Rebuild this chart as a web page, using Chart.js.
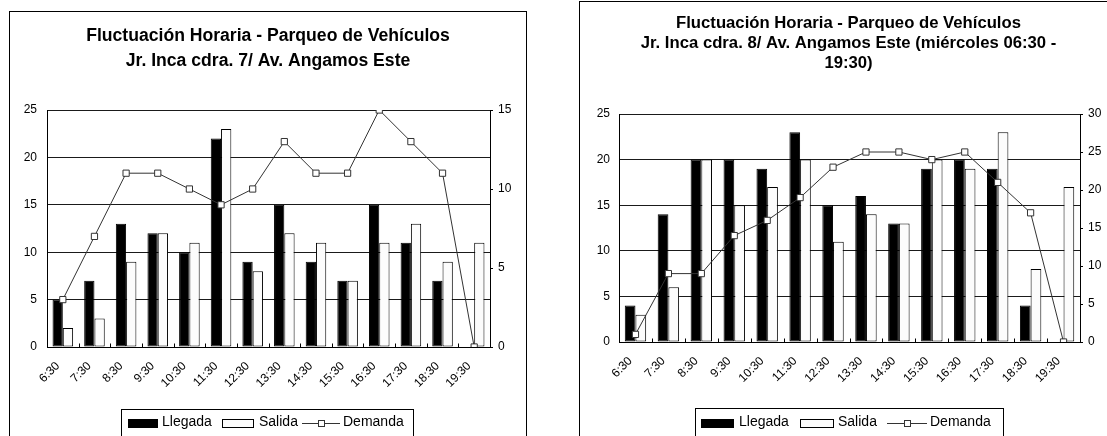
<!DOCTYPE html>
<html lang="es">
<head>
<meta charset="utf-8">
<title>Fluctuación Horaria - Parqueo de Vehículos</title>
<script src="https://cdn.jsdelivr.net/npm/chart.js@4.4.1/dist/chart.umd.min.js"></script>
<style>
  html, body { margin: 0; padding: 0; background: #fff; width: 1107px; height: 436px; overflow: hidden; }
  .marco { position: absolute; border: 1px solid #000; background: #fff; }
  #marco7 { left: 9px; top: 11px; width: 516px; height: 440px; }
  #marco8 { left: 579px; top: 1px; width: 537px; height: 450px; }
  canvas { display: block; }
</style>
</head>
<body>
<div class="marco" id="marco7"><canvas id="graf7" width="516" height="440"></canvas></div>
<div class="marco" id="marco8"><canvas id="graf8" width="537" height="450"></canvas></div>
<script>
// Horas de conteo (inicio de cada intervalo)
const horas = ['6:30', '7:30', '8:30', '9:30', '10:30', '11:30', '12:30',
               '13:30', '14:30', '15:30', '16:30', '17:30', '18:30', '19:30'];

// Jr. Inca cdra. 7
const llegada7 = [5, 7, 13, 12, 10, 22, 9, 15, 9, 7, 15, 11, 7, 0];
const salida7  = [2, 3, 9, 12, 11, 23, 8, 12, 11, 7, 11, 13, 9, 11];
const demanda7 = [3, 7, 11, 11, 10, 9, 10, 13, 11, 11, 15, 13, 11, 0];

// Jr. Inca cdra. 8
const llegada8 = [4, 14, 20, 20, 19, 23, 15, 16, 13, 19, 20, 19, 4, 0];
const salida8  = [3, 6, 20, 15, 17, 20, 11, 14, 13, 20, 19, 23, 8, 17];
const demanda8 = [1, 9, 9, 14, 16, 19, 23, 25, 25, 24, 25, 21, 17, 0];

const titulo7 = ['Fluctuación Horaria - Parqueo de Vehículos',
                 'Jr. Inca cdra. 7/ Av. Angamos Este'];
const titulo8 = ['Fluctuación Horaria - Parqueo de Vehículos',
                 'Jr. Inca cdra. 8/ Av. Angamos Este (miércoles 06:30 -',
                 '19:30)'];

const series = ['Llegada', 'Salida', 'Demanda'];

// Escalas: [mínimo, máximo, paso]
const ejeFlujo     = [0, 25, 5];
const ejeDemanda7  = [0, 15, 5];
const ejeDemanda8  = [0, 30, 5];

const FUENTE = "Arial, 'Liberation Sans', sans-serif";
Chart.defaults.font.family = FUENTE;
Chart.defaults.color = '#000';

// Marcas cortas hacia el interior entre categorías del eje X
const marcasX = {
  id: 'marcasX',
  afterDatasetsDraw(chart) {
    const xs = chart.scales.x;
    const ctx = chart.ctx;
    const base = Math.round(xs.top) + 0.5;
    ctx.save();
    ctx.strokeStyle = '#000';
    ctx.lineWidth = 1;
    ctx.beginPath();
    for (let i = 1; i < xs.ticks.length; i++) {
      const x = Math.round((xs.getPixelForTick(i - 1) + xs.getPixelForTick(i)) / 2) + 0.5;
      ctx.moveTo(x, base);
      ctx.lineTo(x, base - 4);
    }
    ctx.stroke();
    ctx.restore();
  }
};

// Leyenda en recuadro: barra rellena, barra vacía y línea con marcador
const leyenda = {
  id: 'leyenda',
  afterDraw(chart, args, o) {
    const ctx = chart.ctx;
    const ds = chart.data.datasets;
    ctx.save();
    ctx.fillStyle = '#fff';
    ctx.strokeStyle = '#000';
    ctx.lineWidth = 1;
    ctx.fillRect(o.caja[0], o.caja[1], o.caja[2], chart.height);
    ctx.strokeRect(o.caja[0] + 0.5, o.caja[1] + 0.5, o.caja[2], chart.height);

    const yc = o.yc;
    ctx.font = o.tam + 'px ' + FUENTE;
    ctx.textBaseline = 'middle';
    ctx.textAlign = 'left';
    // barras
    for (let k = 0; k < 2; k++) {
      const c = o.cuadros[k];
      ctx.fillStyle = ds[k].backgroundColor;
      ctx.fillRect(c[0], yc - 4, c[1], 9);
      ctx.strokeStyle = ds[k].borderColor;
      ctx.strokeRect(c[0] + 0.5, yc - 3.5, c[1] - 1, 8);
      ctx.fillStyle = '#000';
      ctx.fillText(ds[k].label, c[2], o.yt);
    }
    // línea con marcador
    const l = o.linea;
    ctx.strokeStyle = ds[2].borderColor;
    ctx.beginPath();
    ctx.moveTo(l[0], Math.round(yc) + 0.5);
    ctx.lineTo(l[1], Math.round(yc) + 0.5);
    ctx.stroke();
    const mx = Math.round((l[0] + l[1]) / 2);
    ctx.fillStyle = '#fff';
    ctx.fillRect(mx - 3, Math.round(yc) - 3, 6, 6);
    ctx.strokeRect(mx - 2.5, Math.round(yc) - 2.5, 6, 6);
    ctx.fillStyle = '#000';
    ctx.fillText(ds[2].label, l[2], o.yt);
    ctx.restore();
  }
};

function crearGrafico(id, cfg) {
  const datasets = [
    { type: 'bar', label: series[0], data: cfg.llegada, yAxisID: 'y', order: 1,
      backgroundColor: '#000', borderColor: '#000', borderWidth: 1, borderSkipped: false,
      categoryPercentage: 0.65, barPercentage: 1 },
    { type: 'bar', label: series[1], data: cfg.salida, yAxisID: 'y', order: 1,
      backgroundColor: '#fcfcfc', borderColor: '#000', borderWidth: 1, borderSkipped: false,
      categoryPercentage: 0.65, barPercentage: 1 },
    { type: 'line', label: series[2], data: cfg.demanda, yAxisID: 'y2', order: 0,
      borderColor: '#333', borderWidth: 1, tension: 0, fill: false,
      pointStyle: 'rect', pointRadius: 4.4, pointBorderWidth: 1,
      pointBorderColor: '#333', pointBackgroundColor: '#fff' }
  ];

  return new Chart(document.getElementById(id), {
    data: { labels: horas, datasets },
    plugins: [marcasX, leyenda],
    options: {
      responsive: false,
      animation: false,
      devicePixelRatio: 1,
      layout: { padding: { top: 0, left: 0, right: 0, bottom: cfg.padInf } },
      plugins: {
        legend: { display: false },
        tooltip: { enabled: false },
        title: {
          display: true,
          text: cfg.titulo,
          color: '#000',
          font: { family: FUENTE, size: cfg.tamTitulo, weight: 'bold', lineHeight: cfg.altLinea / cfg.tamTitulo },
          padding: { top: cfg.padTitulo[0], bottom: cfg.padTitulo[1] }
        },
        leyenda: cfg.leyenda
      },
      scales: {
        x: {
          offset: true,
          grid: { display: true, drawOnChartArea: false, drawTicks: false, color: '#000' },
          border: { display: true, color: '#000', width: 1 },
          ticks: { autoSkip: false, minRotation: 45, maxRotation: 45, padding: cfg.padX,
                   labelOffset: cfg.despX, font: { size: 12 }, color: '#000' },
          afterFit(s) { s.height = 50; }
        },
        y: {
          position: 'left',
          min: ejeFlujo[0], max: ejeFlujo[1],
          ticks: { stepSize: ejeFlujo[2], padding: cfg.padY, font: { size: 12 }, color: '#000' },
          grid: { color: '#1a1a1a', lineWidth: 1, drawTicks: false },
          border: { display: true, color: '#000', width: 1 },
          afterFit(s) { s.width = cfg.anchoY; }
        },
        y2: {
          position: 'right',
          min: cfg.ejeDem[0], max: cfg.ejeDem[1],
          ticks: { stepSize: cfg.ejeDem[2], padding: 5, font: { size: 12 }, color: '#000' },
          grid: { drawOnChartArea: false, drawTicks: true, tickLength: 3, color: '#000' },
          border: { display: true, color: '#000', width: 1 },
          afterFit(s) { s.width = cfg.anchoY2; }
        }
      }
    }
  });
}

crearGrafico('graf7', {
  llegada: llegada7, salida: salida7, demanda: demanda7, ejeDem: ejeDemanda7,
  titulo: titulo7, tamTitulo: 17.6, altLinea: 25, padTitulo: [12, 36],
  anchoY: 37, anchoY2: 36, padY: 10, padX: 12, despX: -5, padInf: 55,
  leyenda: { caja: [111, 397, 292], yc: 411, yt: 410, tam: 14,
             cuadros: [[118, 30, 152], [212, 32, 249]], linea: [292, 330, 333] }
});

crearGrafico('graf8', {
  llegada: llegada8, salida: salida8, demanda: demanda8, ejeDem: ejeDemanda8,
  titulo: titulo8, tamTitulo: 16.7, altLinea: 20, padTitulo: [11, 41],
  anchoY: 39, anchoY2: 37, padY: 9, padX: 12, despX: -5, padInf: 60,
  leyenda: { caja: [115, 406, 308], yc: 421, yt: 420, tam: 14,
             cuadros: [[121, 33, 159], [220, 34, 258]], linea: [307, 347, 350] }
});
</script>
</body>
</html>
